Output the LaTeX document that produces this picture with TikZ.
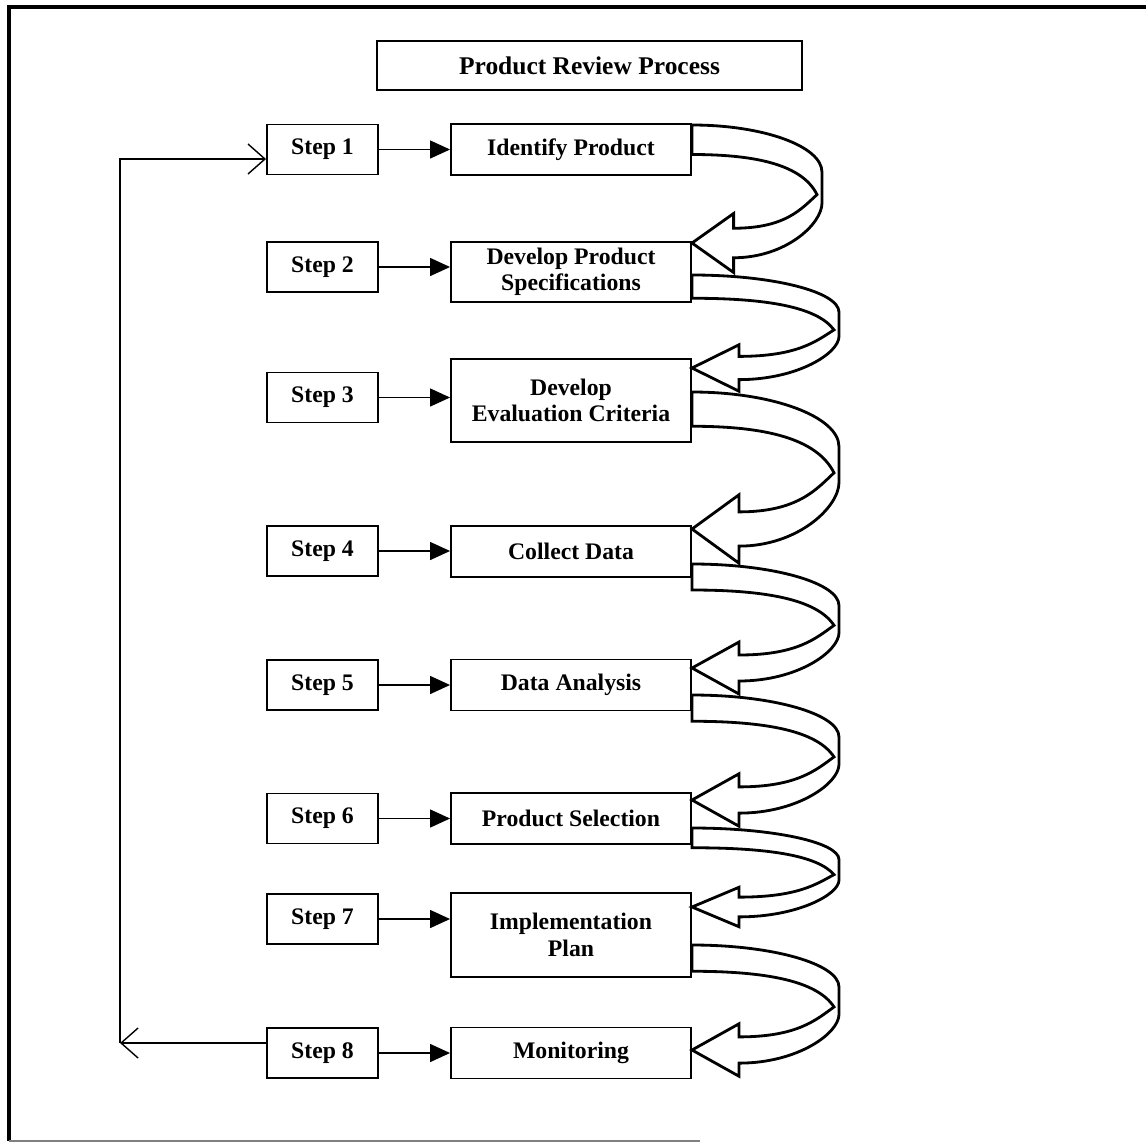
\documentclass[tikz,border=0pt]{standalone}
\usepackage{fontspec}
\setmainfont{Liberation Serif}
\usetikzlibrary{arrows.meta,positioning,calc}

\begin{document}
\begin{tikzpicture}[x=0.02cm,y=-0.02cm,
  every node/.style={font=\fontsize{13.5}{15}\selectfont\bfseries},
  stepbox/.style={draw,line width=1.1pt,minimum width=2.22cm,minimum height=1cm,inner sep=0pt},
  taskbox/.style={draw,line width=1.1pt,minimum width=4.8cm,minimum height=1.02cm,align=center,inner sep=0pt},
  link/.style={line width=0.8pt,-{Triangle[length=4mm,width=3.6mm]}},
  back/.style={line width=0.8pt,-{Straight Barb[length=3.4mm,width=6mm]}},
  band/.style={line width=1.6pt,fill=white,line join=miter}]
  \useasboundingbox (0,0) rectangle (1146,1143);
  % frame
  \draw[line width=2.2pt] (1146,7) -- (9,7) -- (9,1141);
  \draw[gray,line width=1pt] (9,1141) -- (700,1141);
  % title
  \node[draw,line width=1.1pt,minimum width=8.5cm,minimum height=0.98cm,
    font=\fontsize{14.5}{16}\selectfont\bfseries] (title) at (589.5,65.5) {Product Review Process};
  % steps
  \foreach \i/\y in {1/149.5,2/267,3/397.5,4/551,5/685,6/818.5,7/919,8/1053}
    \node[stepbox] (s\i) at (322.5,\y) {Step \i};
  % tasks
  \node[taskbox] (m1) at (571,149.5) {Identify Product};
  \node[taskbox,minimum height=1.2cm] (m2) at (571,272) {Develop Product\\Specifications};
  \node[taskbox,minimum height=1.66cm] (m3) at (571,400.5) {Develop\\Evaluation Criteria};
  \node[taskbox] (m4) at (571,551.5) {Collect Data};
  \node[taskbox] (m5) at (571,685) {Data Analysis};
  \node[taskbox] (m6) at (571,818.5) {Product Selection};
  \node[taskbox,minimum height=1.68cm] (m7) at (571,935) {Implementation\\Plan};
  \node[taskbox] (m8) at (571,1053) {Monitoring};
  \foreach \i in {1,...,8}
    \draw[link] (s\i.east) -- (s\i.east -| m\i.west);
  % feedback loop
  \coordinate (fb1) at (120,159);
  \coordinate (fb8) at (120,1043);
  \draw[back] (s8.west |- fb8) -- (fb8);
  \draw[back] (fb8) -- (fb1) -- (fb1 -| s1.west);
  % curved block arrows
  \foreach \yT/\yP/\xR in {125/243/822,275/368/839,392/529/839,564/668/839,
                          695/800/839,828/907/839,945/1050/839}{
    \pgfmathsetmacro\D{\yP-\yT}
    \pgfmathsetmacro\W{\xR-692}
    \pgfmathsetmacro\xB{692+0.32*\W}
    \pgfmathsetmacro\xT{\xR-5}
    \pgfmathsetmacro\yX{\yT+0.59*\D}
    \draw[band] (692,\yT)
      .. controls ({692+0.55*\W},\yT) and (\xR,{\yT+0.18*\D}) .. (\xR,{\yT+0.4*\D})
      -- (\xR,{\yT+0.66*\D})
      .. controls (\xR,{\yT+0.84*\D}) and ({\xB+0.4*\W},{\yP+0.125*\D}) .. (\xB,{\yP+0.125*\D})
      -- (\xB,{\yP+0.25*\D}) -- (692,\yP) -- (\xB,{\yP-0.25*\D}) -- (\xB,{\yP-0.125*\D})
      .. controls ({\xB+0.4*\W},{\yP-0.125*\D}) and ({\xT-0.12*\W},{\yX+0.12*\D}) .. (\xT,\yX)
      .. controls ({\xR-0.15*\W},{\yX-0.25*\D}) and ({692+0.5*\W},{\yT+0.25*\D}) .. (692,{\yT+0.25*\D})
      -- cycle;
  }
\end{tikzpicture}
\end{document}
